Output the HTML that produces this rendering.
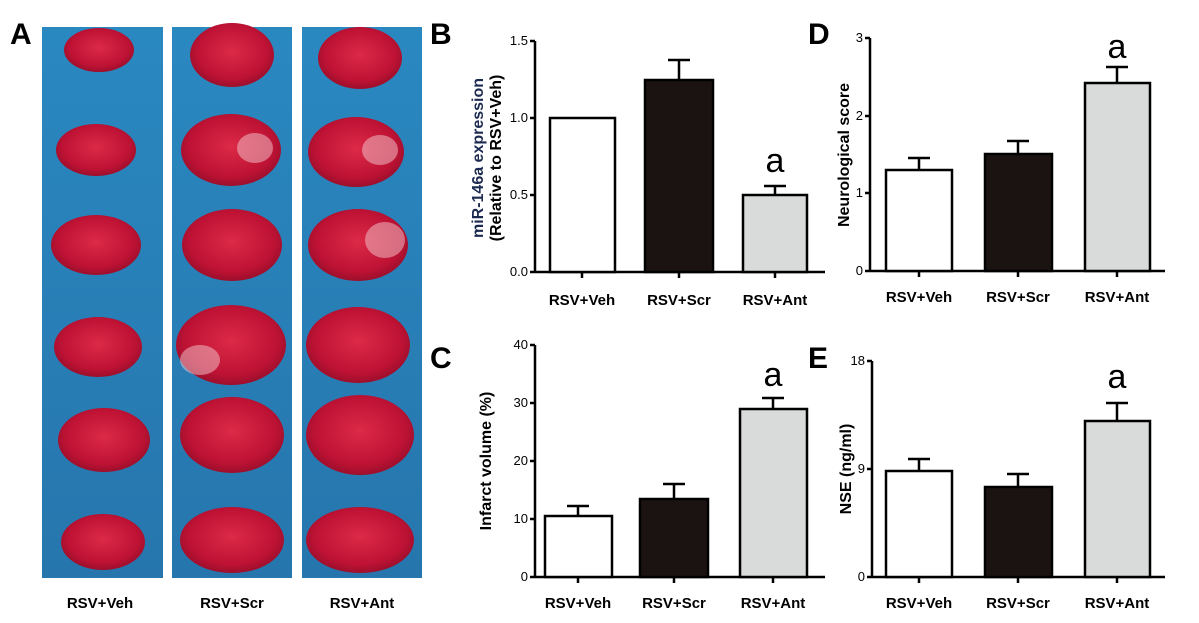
<!DOCTYPE html><html><head><style>body{margin:0;background:#fff}svg{display:block}text{font-family:"Liberation Sans",Arial,sans-serif}</style></head><body>
<svg width="1199" height="623" viewBox="0 0 1199 623">
<defs><radialGradient id="br" cx="50%" cy="45%" r="60%"><stop offset="0" stop-color="#dc2a48"/><stop offset="0.7" stop-color="#be1234"/><stop offset="1" stop-color="#8e0e28"/></radialGradient>
<linearGradient id="bl" x1="0" y1="0" x2="0" y2="1"><stop offset="0" stop-color="#2a88c0"/><stop offset="1" stop-color="#2676ad"/></linearGradient></defs>
<text x="10" y="44" font-size="30" font-weight="bold">A</text>
<rect x="42" y="27" width="121" height="551" fill="url(#bl)"/>
<rect x="172" y="27" width="120" height="551" fill="url(#bl)"/>
<rect x="302" y="27" width="120" height="551" fill="url(#bl)"/>
<g fill="url(#br)">
<ellipse cx="99" cy="50" rx="35" ry="22"/><ellipse cx="232" cy="55" rx="42" ry="32"/><ellipse cx="360" cy="58" rx="42" ry="31"/>
<ellipse cx="96" cy="150" rx="40" ry="26"/><ellipse cx="231" cy="150" rx="50" ry="36"/><ellipse cx="356" cy="152" rx="48" ry="35"/>
<ellipse cx="96" cy="245" rx="45" ry="30"/><ellipse cx="232" cy="245" rx="50" ry="36"/><ellipse cx="358" cy="245" rx="50" ry="36"/>
<ellipse cx="98" cy="347" rx="44" ry="30"/><ellipse cx="231" cy="345" rx="55" ry="40"/><ellipse cx="358" cy="345" rx="52" ry="38"/>
<ellipse cx="104" cy="440" rx="46" ry="32"/><ellipse cx="232" cy="435" rx="52" ry="38"/><ellipse cx="360" cy="435" rx="54" ry="40"/>
<ellipse cx="103" cy="542" rx="42" ry="28"/><ellipse cx="232" cy="540" rx="52" ry="33"/><ellipse cx="360" cy="540" rx="54" ry="33"/>
</g>
<g fill="#f3c9cf" opacity="0.5"><ellipse cx="255" cy="148" rx="18" ry="15"/><ellipse cx="385" cy="240" rx="20" ry="18"/><ellipse cx="380" cy="150" rx="18" ry="15"/><ellipse cx="200" cy="360" rx="20" ry="15"/></g>
<g font-size="15" font-weight="bold" text-anchor="middle"><text x="100" y="608">RSV+Veh</text><text x="232" y="608">RSV+Scr</text><text x="362" y="608">RSV+Ant</text></g>

<g stroke="#000" stroke-width="2.5" fill="none">
<path d="M535 41V272H825M530 41h5M530 118h5M530 195h5M530 272h5M582 272v6M679 272v6M775 272v6"/>
<rect x="550" y="118" width="65" height="154" fill="#fff"/>
<path d="M679 80V60M668 60h22"/><rect x="645" y="80" width="68" height="192" fill="#1a1311"/>
<path d="M775 195v-9M764 186h22"/><rect x="743" y="195" width="64" height="77" fill="#d9dbdb"/>
<path d="M870 38V271H1165M865 38h5M865 116h5M865 193h5M865 271h5M919 271v6M1018 271v6M1117 271v6"/>
<path d="M919 170v-12M908 158h22"/><rect x="886" y="170" width="66" height="101" fill="#fff"/>
<path d="M1018 154v-13M1007 141h22"/><rect x="985" y="154" width="67" height="117" fill="#1a1311"/>
<path d="M1117 83V67M1106 67h22"/><rect x="1085" y="83" width="65" height="188" fill="#d9dbdb"/>
<path d="M535 345V577H825M530 345h5M530 403h5M530 461h5M530 519h5M530 577h5M578 577v6M674 577v6M773 577v6"/>
<path d="M578 516v-10M567 506h22"/><rect x="545" y="516" width="67" height="61" fill="#fff"/>
<path d="M674 499v-15M663 484h22"/><rect x="640" y="499" width="68" height="78" fill="#1a1311"/>
<path d="M773 409v-11M762 398h22"/><rect x="740" y="409" width="67" height="168" fill="#d9dbdb"/>
<path d="M872 361V577H1165M867 361h5M867 469h5M867 577h5M919 577v6M1018 577v6M1117 577v6"/>
<path d="M919 471v-12M908 459h22"/><rect x="886" y="471" width="66" height="106" fill="#fff"/>
<path d="M1018 487v-13M1007 474h22"/><rect x="985" y="487" width="67" height="90" fill="#1a1311"/>
<path d="M1117 421v-18M1106 403h22"/><rect x="1085" y="421" width="65" height="156" fill="#d9dbdb"/>
</g>
<g font-size="30" font-weight="bold"><text x="430" y="44">B</text><text x="808" y="44">D</text><text x="430" y="368">C</text><text x="808" y="368">E</text></g>
<g font-size="13" text-anchor="end">
<text x="528" y="45">1.5</text><text x="528" y="122">1.0</text><text x="528" y="199">0.5</text><text x="528" y="276">0.0</text>
<text x="863" y="42">3</text><text x="863" y="120">2</text><text x="863" y="197">1</text><text x="863" y="275">0</text>
<text x="528" y="349">40</text><text x="528" y="407">30</text><text x="528" y="465">20</text><text x="528" y="523">10</text><text x="528" y="581">0</text>
<text x="865" y="365">18</text><text x="865" y="473">9</text><text x="865" y="581">0</text></g>
<g font-size="15" font-weight="bold" text-anchor="middle">
<text x="582" y="305">RSV+Veh</text><text x="679" y="305">RSV+Scr</text><text x="775" y="305">RSV+Ant</text>
<text x="919" y="302">RSV+Veh</text><text x="1018" y="302">RSV+Scr</text><text x="1117" y="302">RSV+Ant</text>
<text x="578" y="608">RSV+Veh</text><text x="674" y="608">RSV+Scr</text><text x="773" y="608">RSV+Ant</text>
<text x="919" y="608">RSV+Veh</text><text x="1018" y="608">RSV+Scr</text><text x="1117" y="608">RSV+Ant</text></g>
<g font-size="16" font-weight="bold" text-anchor="middle">
<text transform="translate(483,158) rotate(-90)" fill="#1c2a50">miR-146a expression</text>
<text transform="translate(501,158) rotate(-90)">(Relative to RSV+Veh)</text>
<text transform="translate(849,155) rotate(-90)">Neurological score</text>
<text transform="translate(491,461) rotate(-90)">Infarct volume (%)</text>
<text transform="translate(851,469) rotate(-90)">NSE (ng/ml)</text></g>
<g font-size="34" text-anchor="middle"><text x="775" y="172">a</text><text x="1117" y="58">a</text><text x="773" y="386">a</text><text x="1117" y="388">a</text></g>
</svg></body></html>
